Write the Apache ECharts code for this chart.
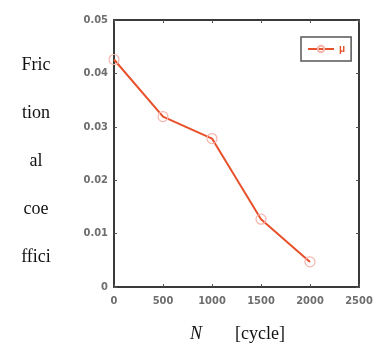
<!DOCTYPE html>
<html><head><meta charset="utf-8">
<script src="https://cdn.jsdelivr.net/npm/echarts@6/dist/echarts.min.js"></script>
<style>html,body{margin:0;padding:0;background:#fff}#c{width:383px;height:350px}</style>
</head><body><div id="c"></div>
<script>
const cycles = [0, 500, 1000, 1500, 2000];
const mu = [0.0426, 0.0319, 0.0278, 0.0127, 0.0047];
const yTitleLines = ['Fric', 'tion', 'al', 'coe', 'ffici'];
const seriesName = 'μ';

const chart = echarts.init(document.getElementById('c'), null, {renderer: 'canvas'});
const tickFont = {color: '#6e6e6e', fontSize: 11, fontFamily: 'Liberation Sans Narrow, DejaVu Sans Condensed, sans-serif', fontWeight: 'bold'};
const axisLine = {show: true, onZero: false, lineStyle: {color: '#3a3a3a', width: 2}};
const tickIn = {show: true, inside: true, length: 3, lineStyle: {color: '#555', width: 1}};
const graphics = yTitleLines.map((t, i) => ({
  type: 'text',
  style: {text: t, x: 36, y: 65 + i * 48, textAlign: 'center', textVerticalAlign: 'middle',
    font: '18px "Liberation Serif", "Times New Roman", serif', fill: '#111'}
}));
graphics.push({type: 'text', style: {text: 'N', x: 196, y: 334, textAlign: 'center', textVerticalAlign: 'middle',
  font: 'italic 18px "Liberation Serif", serif', fill: '#111'}});
graphics.push({type: 'text', style: {text: '[cycle]', x: 260, y: 334, textAlign: 'center', textVerticalAlign: 'middle',
  font: '18px "Liberation Serif", serif', fill: '#111'}});

chart.setOption({
  animation: false,
  grid: {left: 114, right: 24, top: 20, bottom: 63},
  legend: {
    data: [{name: seriesName}], left: 301, top: 37, width: 48, height: 25,
    padding: [7, 6, 7, 6], itemWidth: 26, itemHeight: 8, itemGap: 4,
    borderColor: '#555', borderWidth: 1.5, borderRadius: 0,
    textStyle: {color: '#e8502a', fontSize: 10, fontWeight: 'bold'}
  },
  xAxis: [
    {type: 'value', min: 0, max: 2500, interval: 500, axisLine, axisTick: tickIn, splitLine: {show: false},
     axisLabel: Object.assign({margin: 9, formatter: v => String(v)}, tickFont)},
    {type: 'value', position: 'top', min: 0, max: 2500, interval: 500, axisLine, axisTick: tickIn,
     splitLine: {show: false}, axisLabel: {show: false}}
  ],
  yAxis: [
    {type: 'value', min: 0, max: 0.05, interval: 0.01, axisLine, axisTick: tickIn, splitLine: {show: false},
     axisLabel: Object.assign({margin: 6, formatter: v => v === 0 ? '0' : v.toFixed(2)}, tickFont)},
    {type: 'value', position: 'right', min: 0, max: 0.05, interval: 0.01, axisLine, axisTick: tickIn,
     splitLine: {show: false}, axisLabel: {show: false}}
  ],
  series: [{
    name: seriesName, type: 'line', data: cycles.map((c, i) => [c, mu[i]]),
    lineStyle: {color: '#e8502a', width: 2}, itemStyle: {color: 'rgba(255,255,255,0)', borderColor: '#f5b5ac', borderWidth: 1.2},
    symbol: 'circle', symbolSize: 10, showSymbol: true, z: 3
  }],
  graphic: graphics
});
</script></body></html>
